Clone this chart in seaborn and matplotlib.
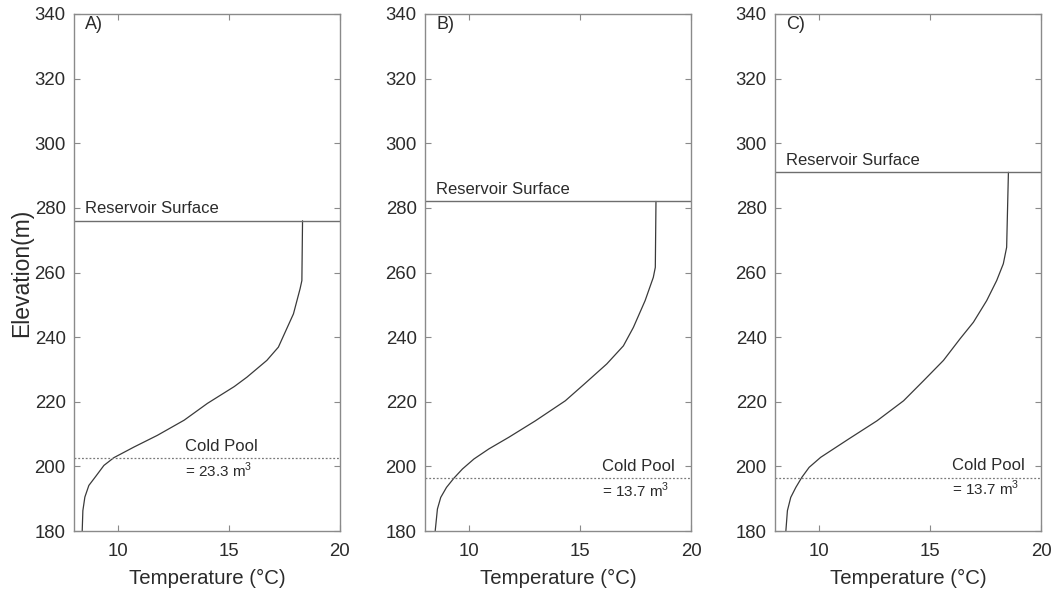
import matplotlib
matplotlib.use("Agg")
import matplotlib.pyplot as plt
import seaborn as sns
import pandas as pd

# ---- data ----
panel_labels = ["A)", "B)", "C)"]
surface_elev = [276, 282, 291]
coldpool_elev = [202.5, 196.4, 196.4]
coldpool_text = ["= 23.3 m$^3$", "= 13.7 m$^3$", "= 13.7 m$^3$"]

temp_a = [18.31, 18.28, 18.2, 17.9, 17.22, 16.7, 15.8, 15.23, 14.02, 12.97, 11.76, 10.71, 9.8, 9.35, 8.98, 8.67, 8.49, 8.4, 8.37]
elev_a = [276.0, 257.5, 255.0, 247.2, 236.9, 232.8, 227.6, 224.7, 219.5, 214.3, 209.6, 206.0, 202.7, 200.3, 196.9, 194.1, 190.5, 186.3, 180.0]

temp_b = [18.42, 18.39, 18.3, 17.93, 17.4, 16.95, 16.2, 15.19, 14.33, 12.98, 11.78, 10.88, 10.21, 9.69, 9.31, 8.97, 8.71, 8.56, 8.46]
elev_b = [282.0, 261.6, 258.5, 251.3, 243.0, 237.3, 231.7, 225.5, 220.3, 214.1, 209.0, 205.4, 202.3, 199.2, 196.4, 193.5, 190.4, 186.8, 180.0]

temp_c = [18.53, 18.45, 18.3, 18.0, 17.55, 16.95, 16.35, 15.6, 14.7, 13.8, 12.6, 11.33, 10.06, 9.54, 9.21, 8.94, 8.71, 8.56, 8.49]
elev_c = [291.0, 267.8, 262.7, 257.5, 251.3, 244.6, 239.5, 232.8, 226.5, 220.3, 214.1, 208.5, 202.8, 199.7, 196.6, 193.5, 190.4, 186.3, 180.0]

x_ticks = [10, 15, 20]
y_ticks = [180, 200, 220, 240, 260, 280, 300, 320, 340]

profiles = [(temp_a, elev_a), (temp_b, elev_b), (temp_c, elev_c)]
coldpool_text_x = [13.0, 16.0, 16.0]
coldpool_text_y1 = [206.0, 200.1, 200.4]
coldpool_text_y2 = [198.9, 192.7, 193.3]

sns.set_theme(style="white")
plt.rcParams["font.family"] = ["Liberation Sans", "DejaVu Sans"]
plt.rcParams["mathtext.fontset"] = "custom"
plt.rcParams["mathtext.rm"] = "Liberation Sans"

fig = plt.figure(figsize=(10.56, 5.92), dpi=100)
lefts = [74 / 1056, 425 / 1056, 775 / 1056]
width = 266 / 1056
bottom = 61 / 592
height = 517 / 592

spine_col = "#8a8a8a"
text_col = "#2b2b2b"

for i, (temps, elevs) in enumerate(profiles):
    ax = fig.add_axes([lefts[i], bottom, width, height])
    df = pd.DataFrame({"Temperature": temps, "Elevation": elevs})
    sns.lineplot(data=df, x="Temperature", y="Elevation", sort=False,
                 estimator=None, color="#3a3a3a", linewidth=0.9, ax=ax)
    ax.axhline(surface_elev[i], color="#6e6e6e", linewidth=1.0)
    ax.axhline(coldpool_elev[i], color="#7a7a7a", linewidth=0.9, linestyle=(0, (1.5, 1.5)))
    ax.set_xlim(8, 20)
    ax.set_ylim(180, 340)
    ax.set_xticks(x_ticks)
    ax.set_yticks(y_ticks)
    ax.tick_params(direction="in", length=4, width=0.8, colors=spine_col,
                   labelcolor=text_col, labelsize=13.4, top=True, right=True,
                   bottom=True, left=True, pad=6)
    ax.tick_params(axis="x", pad=9)
    for s in ax.spines.values():
        s.set_color(spine_col)
        s.set_linewidth(1.0)
    ax.set_xlabel("Temperature (\u00b0C)", fontsize=14.7, color=text_col, labelpad=6)
    if i == 0:
        ax.set_ylabel("Elevation(m)", fontsize=16.5, color=text_col, labelpad=1)
    else:
        ax.set_ylabel("")
    ax.text(8.5, 336.6, panel_labels[i], fontsize=13, color=text_col, va="center", ha="left")
    ax.text(8.5, surface_elev[i] + 3.8, "Reservoir Surface", fontsize=12, color=text_col,
            va="center", ha="left")
    ax.text(coldpool_text_x[i], coldpool_text_y1[i], "Cold Pool", fontsize=12,
            color=text_col, va="center", ha="left")
    ax.text(coldpool_text_x[i], coldpool_text_y2[i], coldpool_text[i], fontsize=11,
            color=text_col, va="center", ha="left")

fig.savefig("out.png", dpi=100)
